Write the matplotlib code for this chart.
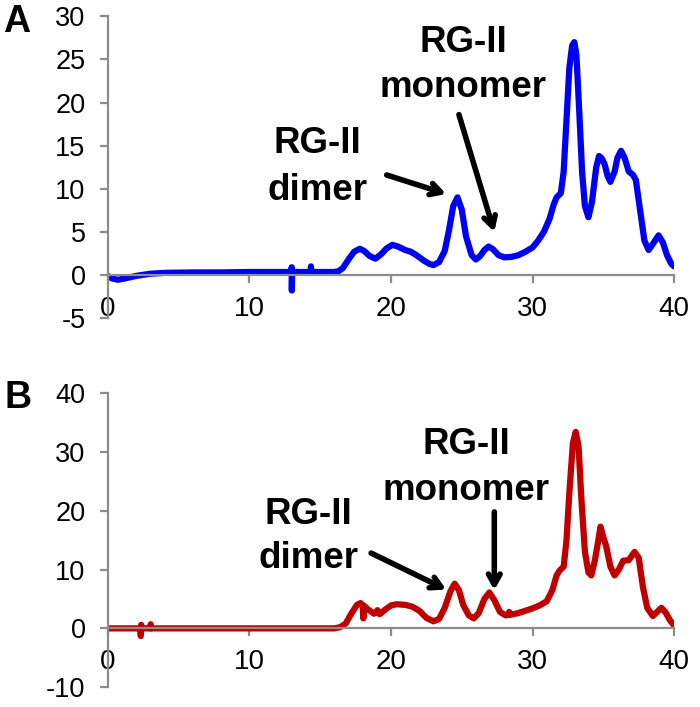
import matplotlib
matplotlib.use('Agg')
import matplotlib.pyplot as plt

plt.rcParams['font.family'] = ['Liberation Sans', 'DejaVu Sans']
plt.rcParams['axes.unicode_minus'] = False

# panel A trace (blue)
x_a = [0, 0.3, 0.7, 1.2, 2, 3, 4, 6, 8, 10, 12, 12.97, 12.99, 13.0, 13.02, 14.0,
       14.33, 14.35, 14.37, 15, 16, 16.3, 16.6, 17.0, 17.4, 17.8, 18.1, 18.5, 18.9,
       19.3, 19.7, 20.1, 20.5, 21.0, 21.4, 21.8, 22.3, 22.7, 23.0, 23.4, 23.8, 24.1,
       24.4, 24.7, 25.0, 25.3, 25.5, 25.7, 26.0, 26.3, 26.6, 26.9, 27.2, 27.6, 28.0,
       28.5, 29.0, 29.5, 30.0, 30.4, 30.8, 31.2, 31.5, 31.7, 32.0, 32.2, 32.4, 32.6,
       32.8, 32.95, 33.1, 33.3, 33.5, 33.7, 33.95, 34.2, 34.5, 34.7, 34.9, 35.1, 35.3,
       35.5, 35.8, 36.0, 36.25, 36.5, 36.8, 37.1, 37.3, 37.6, 37.9, 38.2, 38.5, 38.9,
       39.2, 39.5, 39.8, 40.0]
y_a = [-0.1, -0.4, -0.55, -0.4, -0.1, 0.15, 0.25, 0.3, 0.3, 0.35, 0.35, 0.35, 0.9, -1.8, 0.35, 0.35,
       0.35, 1.0, 0.35, 0.35, 0.35, 0.45, 0.8, 1.8, 2.7, 3.05, 2.8, 2.2, 1.9,
       2.4, 3.1, 3.5, 3.3, 2.9, 2.7, 2.3, 1.7, 1.3, 1.15, 1.5, 2.8, 5.2,
       8.0, 9.0, 7.6, 4.5, 3.4, 2.3, 1.8, 2.2, 2.9, 3.3, 3.0, 2.3, 2.05,
       2.1, 2.3, 2.7, 3.2, 4.0, 5.0, 6.5, 8.2, 9.0, 9.5, 12.0, 18.0, 24.0,
       26.6, 27.0, 25.5, 19.0, 12.0, 8.0, 6.7, 8.5, 12.5, 13.8, 13.5, 12.8, 11.5,
       10.8, 12.0, 13.6, 14.4, 13.6, 12.0, 11.6, 11.0, 7.5, 4.0, 2.9, 3.6, 4.6,
       3.8, 2.3, 1.3, 1.0]

# panel B trace (red)
x_b = [0, 2.3, 2.33, 2.36, 2.4, 3.0, 3.03, 3.06, 5, 10, 15, 16, 16.4, 16.8, 17.2, 17.6,
       17.85, 18.0, 18.05, 18.1, 18.4, 18.8, 19.0, 19.05, 19.2, 19.6, 20.0, 20.4, 21.0,
       21.5, 22.0, 22.5, 23.0, 23.4, 23.8, 24.2, 24.5, 24.8, 25.1, 25.5, 25.85, 26.2,
       26.6, 26.95, 27.3, 27.7, 28.1, 28.3, 28.35, 28.4, 29.0, 29.5, 30.0, 30.5, 31.0,
       31.4, 31.7, 31.9, 32.2, 32.4, 32.6, 32.85, 33.05, 33.25, 33.45, 33.7, 33.95,
       34.15, 34.4, 34.65, 34.8, 35.0, 35.2, 35.5, 35.8, 36.1, 36.4, 36.8, 37.2, 37.5,
       37.8, 38.1, 38.5, 38.8, 39.1, 39.4, 39.7, 40.0]
y_b = [0, 0, -1.3, 0.6, 0, 0, 0.7, 0, 0, 0, 0, 0, 0.2, 0.8, 2.5, 4.0,
       4.3, 4.0, 1.7, 3.8, 3.2, 2.5, 2.8, 3.1, 2.4, 3.2, 3.9, 4.1, 4.0,
       3.7, 3.0, 1.8, 1.2, 1.6, 3.5, 6.3, 7.6, 6.5, 4.0, 2.2, 1.7, 2.6,
       5.0, 6.1, 4.8, 2.8, 2.2, 2.3, 2.8, 2.3, 2.6, 3.0, 3.4, 3.9, 4.6,
       6.5, 9.0, 9.8, 10.5, 15.0, 23.0, 31.5, 33.4, 31.0, 22.0, 13.0, 9.5,
       9.0, 11.5, 15.0, 17.3, 15.5, 14.0, 10.5, 9.0, 10.0, 11.5, 11.6, 13.0, 12.0,
       7.0, 3.5, 2.1, 2.8, 3.5, 2.7, 1.4, 0.5]

x_ticks = [0, 10, 20, 30, 40]
y_ticks_a = [-5, 0, 5, 10, 15, 20, 25, 30]
y_ticks_b = [-10, 0, 10, 20, 30, 40]

grey = '#8c8c8c'
arrow = dict(arrowstyle='->, head_length=0.75, head_width=0.42', lw=4, color='black',
             shrinkA=0, shrinkB=0)
label_kw = dict(fontsize=26.5, fontweight='bold', ha='center', va='baseline')

fig = plt.figure(figsize=(7.0, 7.07), dpi=100)
ax1 = fig.add_axes([0.154, 0.550, 0.809, 0.427])
ax2 = fig.add_axes([0.154, 0.028, 0.809, 0.416])


def style(ax, yticks):
    ax.set_xlim(0, 40)
    ax.set_ylim(yticks[0], yticks[-1])
    ax.set_xticks(x_ticks)
    ax.set_yticks(yticks)
    ax.spines['right'].set_visible(False)
    ax.spines['top'].set_visible(False)
    ax.spines['bottom'].set_position(('data', 0))
    for s in ['left', 'bottom']:
        ax.spines[s].set_color(grey)
        ax.spines[s].set_linewidth(1.6)
    ax.tick_params(axis='both', direction='out', length=6, width=1.6, color=grey)
    ax.tick_params(axis='y', labelsize=19.5, pad=10)
    ax.tick_params(axis='x', labelsize=20, pad=9)


ax1.plot(x_a, y_a, color='#0000F5', lw=4.5, solid_joinstyle='round', solid_capstyle='round')
style(ax1, y_ticks_a)
ax1.text(14.8, 14.2, 'RG-II', **label_kw)
ax1.text(14.8, 8.7, 'dimer', **label_kw)
ax1.text(25.1, 25.8, 'RG-II', **label_kw)
ax1.text(25.1, 20.6, 'monomer', **label_kw)
ax1.annotate('', xy=(23.9, 9.4), xytext=(19.7, 11.6), arrowprops=arrow)
ax1.annotate('', xy=(27.3, 5.0), xytext=(24.8, 18.6), arrowprops=arrow)

ax2.plot(x_b, y_b, color='#C00000', lw=4.5, solid_joinstyle='round', solid_capstyle='round')
style(ax2, y_ticks_b)
ax2.text(14.2, 17.7, 'RG-II', **label_kw)
ax2.text(14.2, 10.2, 'dimer', **label_kw)
ax2.text(25.3, 29.7, 'RG-II', **label_kw)
ax2.text(25.3, 21.9, 'monomer', **label_kw)
ax2.annotate('', xy=(23.9, 6.6), xytext=(18.6, 12.8), arrowprops=arrow)
ax2.annotate('', xy=(27.3, 6.5), xytext=(27.3, 19.8), arrowprops=arrow)

fig.text(0.0236, 0.9547, 'A', fontsize=27, fontweight='bold', ha='center', va='baseline')
fig.text(0.026, 0.423, 'B', fontsize=27, fontweight='bold', ha='center', va='baseline')

fig.savefig('out.png', dpi=100)
